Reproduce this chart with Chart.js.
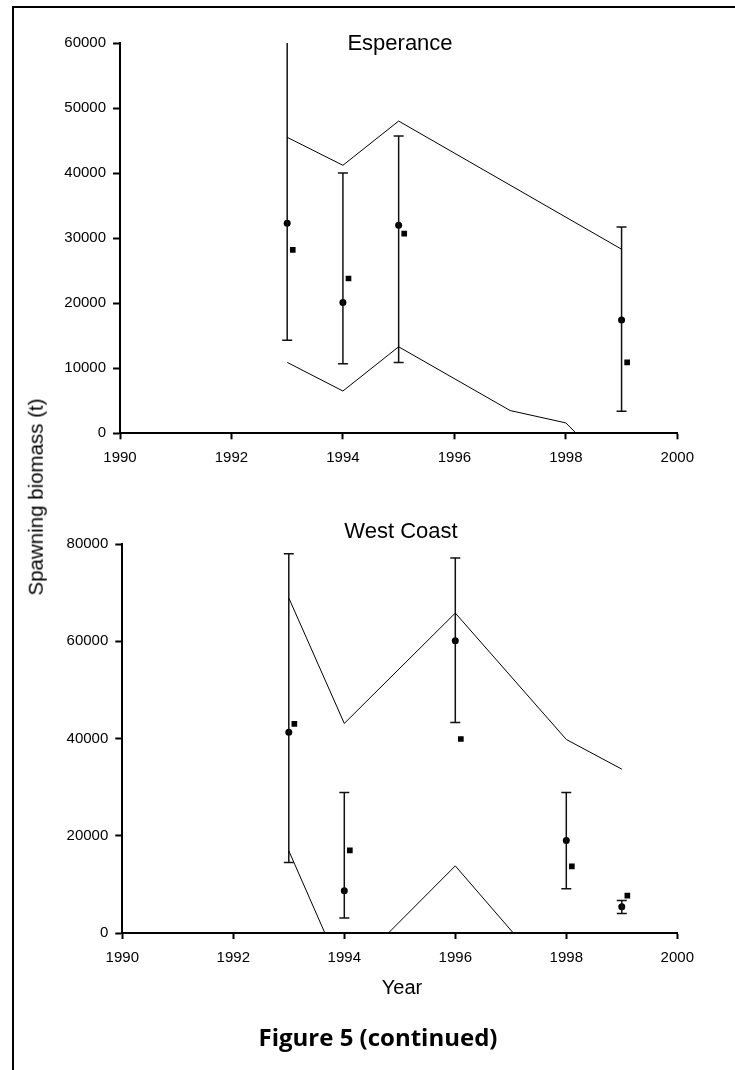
<!DOCTYPE html>
<html>
<head>
<meta charset="utf-8">
<script src="https://cdn.jsdelivr.net/npm/chart.js@4.4.1/dist/chart.umd.min.js"></script>
<style>
  html, body { margin: 0; padding: 0; background: #fff; }
  body { width: 735px; height: 1070px; position: relative; overflow: hidden; font-family: "Liberation Sans", Arial, sans-serif; }
  .frame { position: absolute; left: 12px; top: 6px; width: 800px; height: 1100px; border-left: 2px solid #000; border-top: 2px solid #000; }
  canvas { position: absolute; left: 0; }
  .txt { position: absolute; transform: translate(-50%, -50%); line-height: 1; white-space: nowrap; color: #000; }
</style>
</head>
<body>
<div class="frame"></div>
<canvas id="espChart" width="735" height="480" style="top:0"></canvas>
<canvas id="wcChart" width="735" height="590" style="top:480px"></canvas>

<div class="txt" style="left:400px; top:43px; font-size:22px;">Esperance</div>
<div class="txt" style="left:401px; top:531px; font-size:22px;">West Coast</div>
<div class="txt" style="left:36px; top:497px; font-size:20.5px; transform: translate(-50%, -50%) rotate(-90deg);">Spawning biomass (t)</div>
<div class="txt" style="left:402px; top:987px; font-size:20px;">Year</div>
<div class="txt" style="left:378px; top:1037px; font-size:24px; font-weight:bold; font-family:'Open Sans', sans-serif;">Figure 5 (continued)</div>

<script>
// Esperance: survey estimates with error bars, second estimate (squares), model bounds
const espYears = [1993, 1994, 1995, 1999];
const espEstimate = [32300, 20100, 32000, 17400];
const espLow = [14300, 10700, 10900, 3400];
const espHigh = [75000, 40000, 45700, 31700];
const espSquare = [28200, 23800, 30700, 10900];
const espUpperYears = [1993, 1994, 1995, 1999];
const espUpper = [45500, 41200, 48000, 28300];
const espLowerYears = [1993, 1994, 1995, 1997, 1998, 1999];
const espLower = [10900, 6500, 13300, 3500, 1600, -7000];

// West Coast
const wcYears = [1993, 1994, 1996, 1998, 1999];
const wcEstimate = [41300, 8700, 60100, 19000, 5400];
const wcLow = [14500, 3100, 43300, 9100, 4000];
const wcHigh = [78000, 28900, 77100, 28900, 6700];
const wcSquare = [43000, 17000, 39900, 13700, 7700];
const wcUpperYears = [1993, 1994, 1996, 1998, 1999];
const wcUpper = [68900, 43100, 65800, 39800, 33700];
const wcLowerYears = [1993, 1994, 1996, 1998, 1999];
const wcLower = [16900, -9100, 13800, -12600, -15000];

const xTicks = [1990, 1992, 1994, 1996, 1998, 2000];

Chart.defaults.font.family = '"Liberation Sans", Arial, sans-serif';
Chart.defaults.color = '#000';

const SQUARE_SHIFT = 0.1; // squares sit just right of the circles

function pts(xs, ys) {
    return xs.map((x, i) => ({ x: x, y: ys[i] }));
}

// Build all the datasets for one panel
function buildDatasets(years, est, low, high, sq, upYears, up, loYears, lo) {
    const sets = [];
    sets.push({ data: pts(upYears, up), showLine: true, borderColor: '#000', borderWidth: 1, pointRadius: 0 });
    sets.push({ data: pts(loYears, lo), showLine: true, borderColor: '#000', borderWidth: 1, pointRadius: 0 });
    // one small dataset per error bar, caps drawn with the 'line' point style
    years.forEach((yr, i) => {
        sets.push({
            data: [{ x: yr, y: low[i] }, { x: yr, y: high[i] }],
            showLine: true, borderColor: '#111', borderWidth: 1.5,
            pointStyle: 'line', pointRadius: 5, pointBorderWidth: 1.5, pointBorderColor: '#111'
        });
    });
    sets.push({ data: pts(years, est), pointStyle: 'circle', pointRadius: 3.5, backgroundColor: '#000', borderWidth: 0 });
    sets.push({ data: pts(years.map(y => y + SQUARE_SHIFT), sq), pointStyle: 'rect', pointRadius: 4, backgroundColor: '#000', borderWidth: 0 });
    return sets;
}

function makeChart(id, datasets, yMax, yStep, yWidth, pad) {
    return new Chart(document.getElementById(id), {
        type: 'scatter',
        data: { datasets: datasets },
        options: {
            responsive: false,
            animation: false,
            layout: { padding: pad },
            plugins: { legend: { display: false }, tooltip: { enabled: false } },
            scales: {
                x: {
                    type: 'linear', min: 1990, max: 2000,
                    afterBuildTicks: s => { s.ticks = xTicks.map(v => ({ value: v })); },
                    afterFit: s => { s.height = 40; },
                    ticks: { callback: v => String(v), font: { size: 15 }, padding: 10, maxRotation: 0 },
                    grid: { drawOnChartArea: false, tickLength: 6, tickWidth: 2, tickColor: '#000' },
                    border: { color: '#000', width: 2 }
                },
                y: {
                    min: 0, max: yMax,
                    ticks: { stepSize: yStep, callback: v => String(v), font: { size: 15 }, padding: 7 },
                    afterFit: s => { s.width = yWidth; },
                    grid: { drawOnChartArea: false, tickLength: 7, tickWidth: 2, tickColor: '#000' },
                    border: { color: '#000', width: 2 }
                }
            }
        }
    });
}

makeChart('espChart',
    buildDatasets(espYears, espEstimate, espLow, espHigh, espSquare, espUpperYears, espUpper, espLowerYears, espLower),
    60000, 10000, 120, { left: 0, right: 57.7, top: 43, bottom: 6.7 });

makeChart('wcChart',
    buildDatasets(wcYears, wcEstimate, wcLow, wcHigh, wcSquare, wcUpperYears, wcUpper, wcLowerYears, wcLower),
    80000, 20000, 122.3, { left: 0, right: 57.7, top: 64, bottom: 97 });
</script>
</body>
</html>
